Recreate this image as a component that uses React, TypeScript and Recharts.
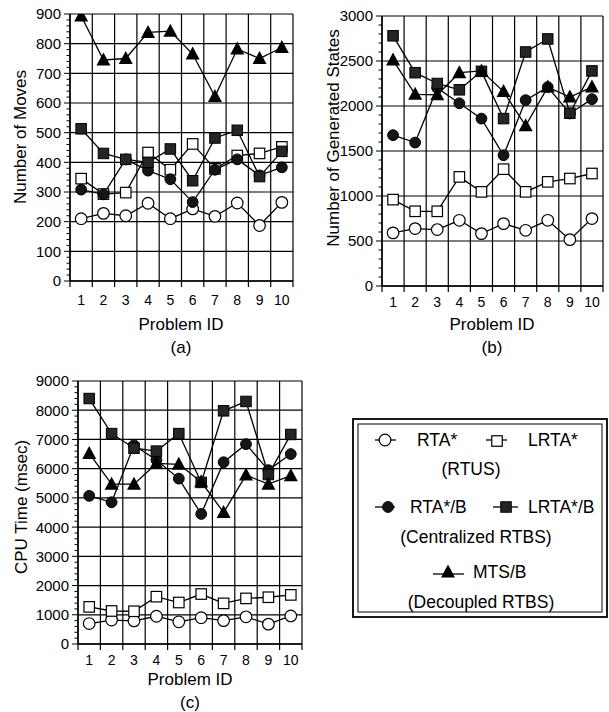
import React from 'react';
import { LineChart, Line, XAxis, YAxis, CartesianGrid } from 'recharts';

const problemIds = [1, 2, 3, 4, 5, 6, 7, 8, 9, 10];
const columnBounds = [0.5, 1.5, 2.5, 3.5, 4.5, 5.5, 6.5, 7.5, 8.5, 9.5, 10.5];

// (a) Number of Moves
const rtaMoves = [210, 228, 220, 262, 210, 243, 218, 263, 187, 265];
const lrtaMoves = [345, 293, 298, 433, 375, 462, 378, 423, 430, 452];
const rtaBMoves = [308, 292, 410, 372, 343, 266, 375, 410, 356, 383];
const lrtaBMoves = [513, 430, 410, 400, 445, 338, 482, 508, 352, 437];
const mtsBMoves = [893, 745, 750, 838, 842, 765, 622, 782, 750, 787];

// (b) Number of Generated States
const rtaGen = [590, 638, 627, 730, 582, 693, 619, 730, 515, 749];
const lrtaGen = [960, 830, 830, 1212, 1046, 1298, 1046, 1157, 1194, 1250];
const rtaBGen = [1676, 1594, 2200, 2030, 1860, 1453, 2065, 2210, 1917, 2076];
const lrtaBGen = [2780, 2370, 2250, 2180, 2385, 1860, 2600, 2745, 1920, 2390];
const mtsBGen = [2510, 2130, 2125, 2370, 2390, 2160, 1780, 2210, 2100, 2210];

// (c) CPU Time (msec)
const rtaCpu = [700, 820, 790, 950, 760, 900, 800, 930, 680, 960];
const lrtaCpu = [1270, 1130, 1120, 1620, 1420, 1710, 1390, 1560, 1600, 1680];
const rtaBCpu = [5070, 4850, 6800, 6300, 5660, 4450, 6220, 6840, 5950, 6500];
const lrtaBCpu = [8400, 7200, 6700, 6600, 7200, 5530, 7980, 8300, 5800, 7170];
const mtsBCpu = [6520, 5470, 5470, 6180, 6150, 5550, 4500, 5780, 5470, 5760];

const movesTicks = [0, 100, 200, 300, 400, 500, 600, 700, 800, 900];
const genTicks = [0, 500, 1000, 1500, 2000, 2500, 3000];
const cpuTicks = [0, 1000, 2000, 3000, 4000, 5000, 6000, 7000, 8000, 9000];

const FONT = '"Liberation Sans", Arial, Helvetica, sans-serif';
const INK = '#000';

function buildRows(rta: number[], lrta: number[], rtaB: number[], lrtaB: number[], mtsB: number[]) {
  return problemIds.map((id, i) => ({ id, rta: rta[i], lrta: lrta[i], rtaB: rtaB[i], lrtaB: lrtaB[i], mtsB: mtsB[i] }));
}

function minorTicksOf(majors: number[], parts: number) {
  const out: number[] = [];
  for (let i = 0; i < majors.length - 1; i++) {
    const step = (majors[i + 1] - majors[i]) / parts;
    for (let k = 0; k < parts; k++) out.push(majors[i] + k * step);
  }
  out.push(majors[majors.length - 1]);
  return out;
}

const OpenCircle = ({ cx, cy, r = 5.8 }: any) => (
  <circle cx={cx} cy={cy} r={r} fill="#fff" stroke={INK} strokeWidth={1.2} />
);
const OpenSquare = ({ cx, cy, s = 10.5 }: any) => (
  <rect x={cx - s / 2} y={cy - s / 2} width={s} height={s} fill="#fff" stroke={INK} strokeWidth={1.2} />
);
const FilledCircle = ({ cx, cy, r = 5.4 }: any) => (
  <circle cx={cx} cy={cy} r={r} fill="#151515" stroke={INK} strokeWidth={1} />
);
const FilledSquare = ({ cx, cy, s = 10.5 }: any) => (
  <rect x={cx - s / 2} y={cy - s / 2} width={s} height={s} fill="#252525" stroke={INK} strokeWidth={1} />
);
const Triangle = ({ cx, cy }: any) => (
  <polygon points={`${cx},${cy - 7.5} ${cx - 7},${cy + 5.5} ${cx + 7},${cy + 5.5}`} fill="#000" />
);

const makeXTick = (labelOffset: number) => (props: any) => {
  const { x, y, payload } = props;
  const v = payload.value;
  if (Number.isInteger(v)) {
    return (
      <text x={x} y={y + labelOffset} dy="0.36em" textAnchor="middle" fontSize={14} fontFamily={FONT} fill={INK}>
        {v}
      </text>
    );
  }
  return <line x1={x} x2={x} y1={y} y2={y + 6} stroke={INK} strokeWidth={1.2} />;
};

const makeYTick = (majors: number[]) => (props: any) => {
  const { x, y, payload } = props;
  const isMajor = majors.includes(payload.value);
  return (
    <g>
      <line x1={x} x2={x - (isMajor ? 6 : 3.5)} y1={y} y2={y} stroke={INK} strokeWidth={1} />
      {isMajor && (
        <text x={x - 9} y={y} dy="0.36em" textAnchor="end" fontSize={15} fontFamily={FONT} fill={INK}>
          {payload.value}
        </text>
      )}
    </g>
  );
};

type PanelProps = {
  rows: any[];
  majors: number[];
  minorParts: number;
  width: number;
  height: number;
  labelOffset: number;
  margin: { top: number; right: number; bottom: number; left: number };
};

function Panel({ rows, majors, minorParts, width, height, labelOffset, margin }: PanelProps) {
  const yMax = majors[majors.length - 1];
  const xTicks = [...columnBounds, ...problemIds].sort((a, b) => a - b);
  const lineProps = { type: 'linear' as const, stroke: INK, strokeWidth: 1.3, isAnimationActive: false, activeDot: false as any };
  const XTick = makeXTick(labelOffset);
  return (
    <LineChart width={width} height={height} data={rows} margin={margin}>
      <CartesianGrid horizontalValues={majors} verticalValues={columnBounds} stroke={INK} strokeWidth={1.2} strokeOpacity={1} />
      <XAxis
        dataKey="id"
        type="number"
        domain={[0.5, 10.5]}
        ticks={xTicks}
        interval={0}
        allowDataOverflow
        height={30}
        tickSize={0}
        tickMargin={0}
        tickLine={false}
        axisLine={{ stroke: INK, strokeWidth: 1.4 }}
        tick={<XTick />}
      />
      <YAxis
        type="number"
        domain={[0, yMax]}
        ticks={minorTicksOf(majors, minorParts)}
        interval={0}
        allowDataOverflow
        width={50}
        tickSize={0}
        tickMargin={0}
        tickLine={false}
        axisLine={{ stroke: INK, strokeWidth: 1.4 }}
        tick={makeYTick(majors)}
      />
      <Line dataKey="rta" {...lineProps} dot={(p: any) => <OpenCircle key={`a${p.index}`} cx={p.cx} cy={p.cy} />} />
      <Line dataKey="lrta" {...lineProps} dot={(p: any) => <OpenSquare key={`b${p.index}`} cx={p.cx} cy={p.cy} />} />
      <Line dataKey="rtaB" {...lineProps} dot={(p: any) => <FilledCircle key={`c${p.index}`} cx={p.cx} cy={p.cy} />} />
      <Line dataKey="lrtaB" {...lineProps} dot={(p: any) => <FilledSquare key={`d${p.index}`} cx={p.cx} cy={p.cy} />} />
      <Line dataKey="mtsB" {...lineProps} dot={(p: any) => <Triangle key={`e${p.index}`} cx={p.cx} cy={p.cy} />} />
    </LineChart>
  );
}

const legendRows1 = ['RTA*', 'LRTA*'];
const legendRows2 = ['RTA*/B', 'LRTA*/B'];
const legendRow3 = 'MTS/B';
const legendGroups = ['(RTUS)', '(Centralized RTBS)', '(Decoupled RTBS)'];

function LegendBox() {
  const ts = { fontSize: 17.5, fontFamily: FONT, fill: INK } as any;
  const lineSeg = (x1: number, x2: number, y: number) => <line x1={x1} x2={x2} y1={y} y2={y} stroke={INK} strokeWidth={1.3} />;
  return (
    <svg width={257} height={201} style={{ position: 'absolute', left: 352, top: 418 }}>
      <rect x={1} y={1} width={254} height={198} fill="#fff" stroke={INK} strokeWidth={1.8} />
      <rect x={6} y={6} width={244} height={188} fill="none" stroke={INK} strokeWidth={1} />
      {lineSeg(23, 44, 22)}
      <OpenCircle cx={33} cy={22} />
      <text x={65} y={22} dy="0.36em" {...ts}>{legendRows1[0]}</text>
      {lineSeg(134, 155, 22)}
      <OpenSquare cx={145} cy={23} />
      <text x={176} y={22} dy="0.36em" {...ts}>{legendRows1[1]}</text>
      <text x={119} y={51} dy="0.36em" textAnchor="middle" {...ts}>{legendGroups[0]}</text>
      {lineSeg(23, 43, 89)}
      <FilledCircle cx={36} cy={89} />
      <text x={58} y={89} dy="0.36em" {...ts}>{legendRows2[0]}</text>
      {lineSeg(141, 166, 89)}
      <FilledSquare cx={154} cy={89} />
      <text x={176} y={89} dy="0.36em" {...ts}>{legendRows2[1]}</text>
      <text x={124} y={119} dy="0.36em" textAnchor="middle" {...ts}>{legendGroups[1]}</text>
      {lineSeg(81, 112, 156)}
      <Triangle cx={96} cy={154} />
      <text x={121} y={154} dy="0.36em" {...ts}>{legendRow3}</text>
      <text x={129} y={184} dy="0.36em" textAnchor="middle" {...ts}>{legendGroups[2]}</text>
    </svg>
  );
}

function Titles() {
  const ts = { fontSize: 17, fontFamily: FONT, fill: INK } as any;
  return (
    <svg width={609} height={712} style={{ position: 'absolute', left: 0, top: 0, pointerEvents: 'none' }}>
      <text transform="translate(26,137) rotate(-90)" textAnchor="middle" {...ts}>Number of Moves</text>
      <text x={181} y={324} dy="0.36em" textAnchor="middle" {...ts}>Problem ID</text>
      <text x={181} y={347} dy="0.36em" textAnchor="middle" {...ts}>(a)</text>

      <text transform="translate(339,138) rotate(-90)" textAnchor="middle" {...ts}>Number of Generated States</text>
      <text x={492} y={324} dy="0.36em" textAnchor="middle" {...ts}>Problem ID</text>
      <text x={492} y={347} dy="0.36em" textAnchor="middle" {...ts}>(b)</text>

      <text transform="translate(27,507) rotate(-90)" textAnchor="middle" {...ts}>CPU Time (msec)</text>
      <text x={190} y={679} dy="0.36em" textAnchor="middle" {...ts}>Problem ID</text>
      <text x={190} y={702} dy="0.36em" textAnchor="middle" {...ts}>(c)</text>
    </svg>
  );
}

export default function App() {
  const movesRows = buildRows(rtaMoves, lrtaMoves, rtaBMoves, lrtaBMoves, mtsBMoves);
  const genRows = buildRows(rtaGen, lrtaGen, rtaBGen, lrtaBGen, mtsBGen);
  const cpuRows = buildRows(rtaCpu, lrtaCpu, rtaBCpu, lrtaBCpu, mtsBCpu);
  return (
    <div style={{ position: 'absolute', left: 0, top: 0, width: 609, height: 712, background: '#fff', overflow: 'hidden' }}>
      <div style={{ position: 'absolute', left: 0, top: 0 }}>
        <Panel rows={movesRows} majors={movesTicks} minorParts={5} width={300} height={320} labelOffset={19}
          margin={{ top: 14, right: 7, bottom: 9, left: 20 }} />
      </div>
      <div style={{ position: 'absolute', left: 300, top: 0 }}>
        <Panel rows={genRows} majors={genTicks} minorParts={5} width={309} height={320} labelOffset={16}
          margin={{ top: 16, right: 6, bottom: 4, left: 32 }} />
      </div>
      <div style={{ position: 'absolute', left: 0, top: 360 }}>
        <Panel rows={cpuRows} majors={cpuTicks} minorParts={5} width={310} height={320} labelOffset={16}
          margin={{ top: 21, right: 8, bottom: 6, left: 28 }} />
      </div>
      <LegendBox />
      <Titles />
    </div>
  );
}
